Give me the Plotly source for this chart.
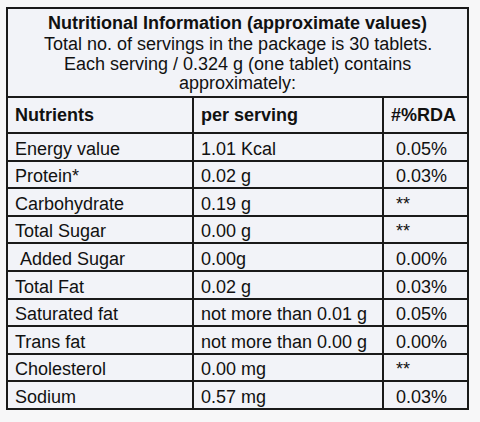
import plotly.graph_objects as go

# Nutrition label data
title_lines = [
    "Nutritional Information (approximate values)",
    "Total no. of servings in the package is 30 tablets.",
    "Each serving / 0.324 g (one tablet) contains",
    "approximately:",
]
col_headers = ["Nutrients", "per serving", "#%RDA"]
nutrients = ["Energy value", "Protein*", "Carbohydrate", "Total Sugar", "\u00a0Added Sugar",
             "Total Fat", "Saturated fat", "Trans fat", "Cholesterol", "Sodium"]
per_serving = ["1.01 Kcal", "0.02 g", "0.19 g", "0.00 g", "0.00g",
               "0.02 g", "not more than 0.01 g", "not more than 0.00 g", "0.00 mg", "0.57 mg"]
rda = ["0.05%", "0.03%", "**", "**", "0.00%",
       "0.03%", "0.05%", "0.00%", "**", "0.03%"]

W, H = 480, 422
left, right = 7, 468
top, table_top = 8, 97
cell_bg = "#f2f3f8"
line_col = "#1a1a1a"
font_family = "Liberation Sans, Arial, sans-serif"

fig = go.Figure(go.Table(
    domain=dict(x=[left / W, right / W], y=[0, 1 - table_top / H]),
    columnwidth=[186, 190, 85],
    header=dict(
        values=["<b>%s</b>" % h for h in col_headers],
        height=28.5,
        align="left",
        fill_color=cell_bg,
        line=dict(color=line_col, width=2),
        font=dict(family=font_family, size=18, color="#111111"),
    ),
    cells=dict(
        values=[nutrients, per_serving, ["\u00a0" + v for v in rda]],
        height=27.6,
        align="left",
        fill_color=cell_bg,
        line=dict(color=line_col, width=2),
        font=dict(family=font_family, size=18, color="#111111"),
    ),
))

# title block box above the table (bottom edge hidden behind the table header)
fig.add_shape(type="rect", xref="paper", yref="paper",
              x0=left / W, x1=right / W, y0=1 - (table_top + 15) / H, y1=1 - top / H,
              line=dict(color=line_col, width=2), fillcolor=cell_bg, layer="below")

title_y = [23, 44, 64, 83]
for i, (txt, yy) in enumerate(zip(title_lines, title_y)):
    fig.add_annotation(
        text="<b>%s</b>" % txt if i == 0 else txt,
        x=(left + right) / 2 / W, y=1 - yy / H, xref="paper", yref="paper",
        showarrow=False, xanchor="center", yanchor="middle",
        font=dict(family=font_family, size=18, color="#111111"),
    )

fig.update_layout(
    width=W, height=H,
    margin=dict(l=0, r=0, t=0, b=0),
    paper_bgcolor="#f7f7f8",
    plot_bgcolor="#f7f7f8",
)

fig.write_html("out.html", config={"displayModeBar": False},
               post_script="document.body.style.margin='0';")
